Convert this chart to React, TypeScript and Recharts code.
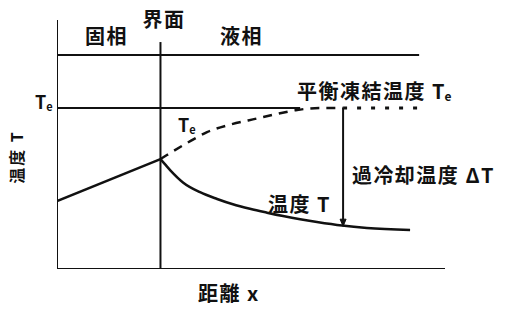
import React from 'react';
import { ComposedChart, Line, XAxis, YAxis, ReferenceDot } from 'recharts';

// Schematic of constitutional supercooling ahead of a solid/liquid interface.
// x: distance (interface at x = 4), y: temperature (equilibrium freezing temp Te = 10).

const X_MAX = 15;
const Y_MAX = 15.47;
const INTERFACE_X = 4;
const TE = 10;

// Actual temperature in the solid (linear) and in the liquid (decaying)
const solidTemp = [
  { x: 0, y: 4.22 },
  { x: 4, y: 6.83 },
];
const liquidTemp = [
  { x: 4, y: 6.83 },
  { x: 4.18, y: 6.5 },
  { x: 4.4, y: 6.1 },
  { x: 4.87, y: 5.38 },
  { x: 5.53, y: 4.77 },
  { x: 6.19, y: 4.35 },
  { x: 6.8, y: 4.02 },
  { x: 7.46, y: 3.74 },
  { x: 8.12, y: 3.5 },
  { x: 8.74, y: 3.29 },
  { x: 9.4, y: 3.09 },
  { x: 10.05, y: 2.92 },
  { x: 11.02, y: 2.7 },
  { x: 11.98, y: 2.55 },
  { x: 13.65, y: 2.42 },
];

// Local liquidus temperature Te(x) in the liquid
const liquidusDashed = [
  { x: 4, y: 6.83 },
  { x: 4.25, y: 7.08 },
  { x: 5.03, y: 7.83 },
  { x: 5.8, y: 8.5 },
  { x: 6.69, y: 8.97 },
  { x: 7.73, y: 9.35 },
  { x: 8.5, y: 9.63 },
  { x: 9.28, y: 9.88 },
  { x: 10.17, y: 10 },
  { x: 11.06, y: 10 },
];
const liquidusDotted = [
  { x: 11.06, y: 10 },
  { x: 14.1, y: 10 },
];

// Frame and reference lines of the diagram
const axisY = [
  { x: 0, y: 0 },
  { x: 0, y: Y_MAX },
];
const axisX = [
  { x: 0, y: 0 },
  { x: X_MAX, y: 0 },
];
const phaseBoundaryTop = [
  { x: 0, y: 13.29 },
  { x: 14, y: 13.29 },
];
const interfaceLine = [
  { x: INTERFACE_X, y: 14.1 },
  { x: INTERFACE_X, y: 0 },
];
const equilibriumLine = [
  { x: 0, y: TE },
  { x: 9.4, y: TE },
];
// Undercooling ΔT arrow from Te down to T
const undercoolArrow = [
  { x: 11.06, y: TE },
  { x: 11.06, y: 2.66 },
];

const FONT = '"Noto Sans CJK JP", "Noto Sans", sans-serif';

const labelStyle = {
  fontFamily: FONT,
  fontSize: 20,
  fontWeight: 700,
  fill: '#111',
} as const;

type Anchor = 'start' | 'middle' | 'end';

function textLabel(text: string, anchor: Anchor, spacing = 1.5) {
  return (props: any) => {
    const vb = props.viewBox || {};
    return (
      <text
        x={vb.x}
        y={vb.y}
        textAnchor={anchor}
        dominantBaseline="central"
        letterSpacing={spacing}
        style={labelStyle}
      >
        {text}
      </text>
    );
  };
}

function teLabel(prefix: string, size: number) {
  return (props: any) => {
    const vb = props.viewBox || {};
    return (
      <text
        x={vb.x}
        y={vb.y}
        textAnchor="start"
        dominantBaseline="central"
        letterSpacing={prefix ? 1.5 : 0}
        style={{ ...labelStyle, fontSize: size }}
      >
        {prefix}
        <tspan letterSpacing={0}>T</tspan>
        <tspan fontSize={Math.round(size * 0.6)} dy={5}>
          e
        </tspan>
      </text>
    );
  };
}

function yAxisLabel(props: any) {
  const vb = props.viewBox || {};
  return (
    <text
      x={vb.x}
      y={vb.y}
      textAnchor="middle"
      dominantBaseline="central"
      letterSpacing={2}
      transform={`rotate(-90, ${vb.x}, ${vb.y})`}
      style={{ ...labelStyle, fontSize: 16 }}
    >
      温度 T
    </text>
  );
}

function ArrowHead(props: any) {
  const { cx, cy, index } = props;
  if (index !== 1 || cx == null || cy == null) return <g key={`ah-${index}`} />;
  return (
    <path
      key={`ah-${index}`}
      d={`M ${cx - 3} ${cy - 7} L ${cx + 3} ${cy - 7} L ${cx} ${cy} Z`}
      fill="#111"
      stroke="#111"
      strokeWidth={1}
    />
  );
}

const ink = '#111';

export default function App() {
  return (
    <div style={{ position: 'absolute', left: 0, top: 0, background: '#fff' }}>
      <ComposedChart
        width={510}
        height={320}
        margin={{ top: 20, right: 65, bottom: 51, left: 57 }}
      >
        <XAxis type="number" dataKey="x" domain={[0, X_MAX]} allowDataOverflow hide />
        <YAxis type="number" dataKey="y" domain={[0, Y_MAX]} allowDataOverflow hide />

        <Line data={axisY} dataKey="y" type="linear" stroke={ink} strokeWidth={2} dot={false} isAnimationActive={false} />
        <Line data={axisX} dataKey="y" type="linear" stroke={ink} strokeWidth={2} dot={false} isAnimationActive={false} />
        <Line data={phaseBoundaryTop} dataKey="y" type="linear" stroke={ink} strokeWidth={2} dot={false} isAnimationActive={false} />
        <Line data={interfaceLine} dataKey="y" type="linear" stroke={ink} strokeWidth={2} dot={false} isAnimationActive={false} />
        <Line data={equilibriumLine} dataKey="y" type="linear" stroke={ink} strokeWidth={2} dot={false} isAnimationActive={false} />

        <Line data={liquidusDashed} dataKey="y" type="monotone" stroke={ink} strokeWidth={2.5} strokeDasharray="9 7" dot={false} isAnimationActive={false} />
        <Line data={liquidusDotted} dataKey="y" type="linear" stroke={ink} strokeWidth={3} strokeDasharray="4 10" dot={false} isAnimationActive={false} />

        <Line data={solidTemp} dataKey="y" type="linear" stroke={ink} strokeWidth={2.5} dot={false} isAnimationActive={false} />
        <Line data={liquidTemp} dataKey="y" type="monotone" stroke={ink} strokeWidth={2.5} dot={false} isAnimationActive={false} />

        <Line data={undercoolArrow} dataKey="y" type="linear" stroke={ink} strokeWidth={2} dot={ArrowHead} isAnimationActive={false} />

        <ReferenceDot x={1.91} y={14.53} r={0} ifOverflow="visible" label={textLabel('固相', 'middle')} />
        <ReferenceDot x={4.14} y={15.59} r={0} ifOverflow="visible" label={textLabel('界面', 'middle')} />
        <ReferenceDot x={7.13} y={14.53} r={0} ifOverflow="visible" label={textLabel('液相', 'middle')} />
        <ReferenceDot x={9.28} y={11.12} r={0} ifOverflow="visible" label={teLabel('平衡凍結温度 ', 20)} />
        <ReferenceDot x={-0.85} y={10.43} r={0} ifOverflow="visible" label={teLabel('', 18)} />
        <ReferenceDot x={4.68} y={9.0} r={0} ifOverflow="visible" label={teLabel('', 18)} />
        <ReferenceDot x={11.4} y={5.9} r={0} ifOverflow="visible" label={textLabel('過冷却温度 ΔT', 'start')} />
        <ReferenceDot x={8.16} y={4.04} r={0} ifOverflow="visible" label={textLabel('温度 T', 'start')} />
        <ReferenceDot x={5.45} y={-1.43} r={0} ifOverflow="visible" label={textLabel('距離 x', 'start')} />
        <ReferenceDot x={-1.585} y={6.96} r={0} ifOverflow="visible" label={yAxisLabel} />
      </ComposedChart>
    </div>
  );
}
